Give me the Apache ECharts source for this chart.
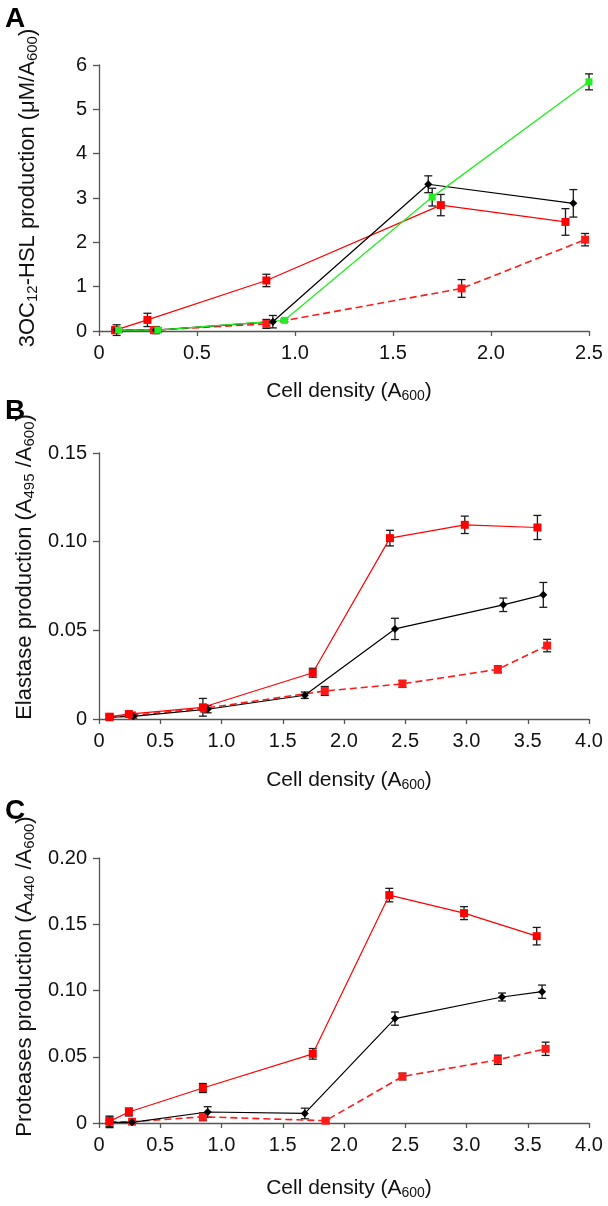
<!DOCTYPE html>
<html>
<head>
<meta charset="utf-8">
<script src="https://cdn.jsdelivr.net/npm/echarts@6/dist/echarts.min.js"></script>
<style>
  html, body { margin: 0; padding: 0; background: #fff; }
  #chart { width: 608px; height: 1206px; }
</style>
</head>
<body>
<div id="chart"></div>
<script>
// each point: [cell density, value, error]
var aRedSolid = [[0.083, 0.02, 0.02], [0.247, 0.25, 0.15], [0.854, 1.14, 0.14], [1.744, 2.84, 0.24], [2.38, 2.46, 0.3]];
var aRedDash = [[0.083, 0.02, 0.02], [0.28, 0.02, 0.02], [0.854, 0.16, 0.1], [1.85, 0.96, 0.2], [2.48, 2.06, 0.14]];
var aBlack = [[0.09, 0.02, 0.12], [0.29, 0.02, 0.08], [0.887, 0.21, 0.14], [1.68, 3.31, 0.19], [2.42, 2.88, 0.31]];
var aGreen = [[0.1, 0.02, 0.05], [0.3, 0.02, 0.05], [0.946, 0.24, 0.03], [1.70, 3.02, 0.2], [2.5, 5.62, 0.18]];

var bRedSolid = [[0.086, 0.0013, 0.0015], [0.244, 0.0028, 0.001], [0.848, 0.0066, 0.005], [1.745, 0.0261, 0.0025],
  [2.375, 0.102, 0.0044], [2.986, 0.1095, 0.0049], [3.579, 0.108, 0.0068]];
var bBlack = [[0.086, 0.001, 0.001], [0.28, 0.0015, 0.001], [0.887, 0.0055, 0.002], [1.68, 0.0134, 0.0018],
  [2.416, 0.0508, 0.006], [3.30, 0.0644, 0.0038], [3.627, 0.070, 0.007]];
var bRedDash = [[0.086, 0.001, 0.001], [0.27, 0.002, 0.001], [0.86, 0.006, 0.002], [1.843, 0.0158, 0.0025],
  [2.477, 0.0198, 0.002], [3.256, 0.028, 0.002], [3.658, 0.0414, 0.0035]];

var cRedSolid = [[0.086, 0.0012, 0.004], [0.244, 0.0083, 0.003], [0.848, 0.0264, 0.0034], [1.745, 0.0522, 0.004],
  [2.37, 0.172, 0.0051], [2.98, 0.1584, 0.0049], [3.573, 0.141, 0.0066]];
var cBlack = [[0.086, 0.0005, 0.004], [0.27, 0.0005, 0.001], [0.887, 0.0083, 0.004], [1.68, 0.0072, 0.004],
  [2.416, 0.0788, 0.005], [3.29, 0.0951, 0.003], [3.617, 0.0991, 0.005]];
var cRedDash = [[0.086, 0.001, 0.001], [0.27, 0.001, 0.001], [0.848, 0.0047, 0.003], [1.85, 0.0017, 0.001],
  [2.477, 0.0351, 0.0025], [3.256, 0.0477, 0.0035], [3.646, 0.056, 0.005]];

var xLabelsA = ['0', '0.5', '1.0', '1.5', '2.0', '2.5'];
var xLabelsBC = ['0', '0.5', '1.0', '1.5', '2.0', '2.5', '3.0', '3.5', '4.0'];
var yLabelsA = ['0', '1', '2', '3', '4', '5', '6'];
var yLabelsB = ['0', '0.05', '0.10', '0.15'];
var yLabelsC = ['0', '0.05', '0.10', '0.15', '0.20'];

var xTitle = '{n|Cell density (A}{s|600}{n|)}';
var yTitleA = '{n|3OC}{s|12}{n|-HSL production (μM/A}{s|600}{n|)}';
var yTitleB = '{n|Elastase production (A}{s|495}{n| /A}{s|600}{n|)}';
var yTitleC = '{n|Proteases production (A}{s|440}{n| /A}{s|600}{n|)}';

var FONT = '"Liberation Sans", Arial, sans-serif';
var AXIS_COLOR = '#555';

function rich(size, sub) {
  return {
    n: {fontSize: size, fontFamily: FONT, color: '#111', lineHeight: size + 3},
    s: {fontSize: sub, fontFamily: FONT, color: '#111', lineHeight: 10, verticalAlign: 'bottom'}
  };
}

function xAxisFor(gi, max, labels, gap) {
  return {
    type: 'value', gridIndex: gi, min: 0, max: max, interval: 0.5,
    name: xTitle, nameLocation: 'middle', nameGap: gap,
    nameTextStyle: {rich: rich(21, 14), padding: [0, 0, 0, 10]},
    axisLine: {show: true, onZero: false, lineStyle: {color: AXIS_COLOR, width: 1.3}},
    axisTick: {show: true, length: 5, lineStyle: {color: AXIS_COLOR, width: 1.3}},
    axisLabel: {fontSize: 20, color: '#111', fontFamily: FONT, margin: 12,
      formatter: function (v) { return labels[Math.round(v / 0.5)]; }},
    splitLine: {show: false}
  };
}

function yAxisFor(gi, max, step, labels, title, shift) {
  return {
    type: 'value', gridIndex: gi, min: 0, max: max, interval: step,
    name: title, nameLocation: 'middle', nameGap: 59,
    nameTextStyle: {rich: rich(22, 15), padding: [0, 0, 0, shift * 2]},
    axisLine: {show: true, lineStyle: {color: AXIS_COLOR, width: 1.3}},
    axisTick: {show: true, length: 6, lineStyle: {color: AXIS_COLOR, width: 1.3}},
    axisLabel: {fontSize: 20, color: '#111', fontFamily: FONT, margin: 12,
      formatter: function (v) { return labels[Math.round(v / step)]; }},
    splitLine: {show: false}
  };
}

function errRender(params, api) {
  var x = api.value(0), y = api.value(1), e = api.value(2);
  var hi = api.coord([x, y + e]);
  var lo = api.coord([x, y - e]);
  var w = 4;
  var st = {stroke: '#1a1a1a', lineWidth: 1.3, fill: null};
  return {
    type: 'group',
    children: [
      {type: 'line', shape: {x1: hi[0], y1: hi[1], x2: lo[0], y2: lo[1]}, style: st},
      {type: 'line', shape: {x1: hi[0] - w, y1: hi[1], x2: hi[0] + w, y2: hi[1]}, style: st},
      {type: 'line', shape: {x1: lo[0] - w, y1: lo[1], x2: lo[0] + w, y2: lo[1]}, style: st}
    ]
  };
}

var styles = {
  redSolid: {color: '#ff0000', width: 1.2, type: 'solid', symbol: 'rect', size: 8},
  redDash: {color: '#ff1a1a', width: 1.6, type: [7, 4], symbol: 'rect', size: 8},
  black: {color: '#000000', width: 1.2, type: 'solid', symbol: 'diamond', size: 8},
  green: {color: '#22ee22', width: 1.3, type: 'solid', symbol: 'rect', size: 7}
};

var series = [];
function addSeries(gi, data, s) {
  series.push({
    type: 'custom', xAxisIndex: gi, yAxisIndex: gi, data: data,
    renderItem: errRender, encode: {x: 0, y: 1}, z: 1, silent: true
  });
  series.push({
    type: 'line', xAxisIndex: gi, yAxisIndex: gi, data: data.map(function (d) { return [d[0], d[1]]; }),
    symbol: s.symbol, symbolSize: s.size, showAllSymbol: true,
    lineStyle: {color: s.color, width: s.width, type: s.type},
    itemStyle: {color: s.color, borderWidth: 0}, z: 3
  });
}

addSeries(0, aRedDash, styles.redDash);
addSeries(0, aRedSolid, styles.redSolid);
addSeries(0, aBlack, styles.black);
addSeries(0, aGreen, styles.green);

addSeries(1, bRedDash, styles.redDash);
addSeries(1, bBlack, styles.black);
addSeries(1, bRedSolid, styles.redSolid);

addSeries(2, cRedDash, styles.redDash);
addSeries(2, cBlack, styles.black);
addSeries(2, cRedSolid, styles.redSolid);

var option = {
  backgroundColor: '#fff',
  animation: false,
  graphic: [
    {type: 'text', left: 5, top: 5, style: {text: 'A', font: 'bold 28px ' + FONT, fill: '#000'}},
    {type: 'text', left: 5, top: 397, style: {text: 'B', font: 'bold 28px ' + FONT, fill: '#000'}},
    {type: 'text', left: 5, top: 797, style: {text: 'C', font: 'bold 28px ' + FONT, fill: '#000'}}
  ],
  grid: [
    {left: 99, right: 19, top: 65, height: 266},
    {left: 99, right: 19, top: 453, height: 266},
    {left: 99, right: 19, top: 858, height: 265}
  ],
  xAxis: [
    xAxisFor(0, 2.5, xLabelsA, 48),
    xAxisFor(1, 4, xLabelsBC, 49),
    xAxisFor(2, 4, xLabelsBC, 53)
  ],
  yAxis: [
    yAxisFor(0, 6, 1, yLabelsA, yTitleA, 10),
    yAxisFor(1, 0.15, 0.05, yLabelsB, yTitleB, 19),
    yAxisFor(2, 0.2, 0.05, yLabelsC, yTitleC, 14)
  ],
  series: series
};

var chart = echarts.init(document.getElementById('chart'));
chart.setOption(option);
</script>
</body>
</html>
